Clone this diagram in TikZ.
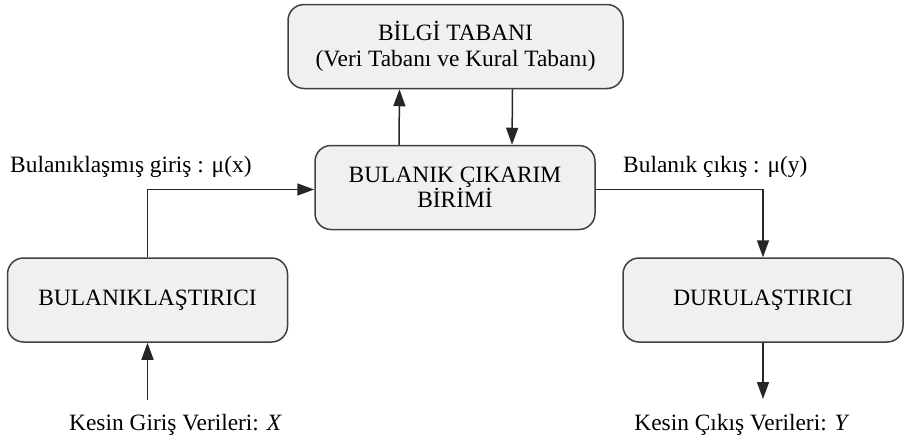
\documentclass[tikz,border=0pt]{standalone}
\usepackage{fontspec}
\setmainfont{Liberation Serif}
\usetikzlibrary{arrows.meta}

\begin{document}
\begin{tikzpicture}[x=1pt,y=-1pt]
        \tikzstyle{every node}+=[inner sep=0pt, font=\fontsize{23.4}{26}\selectfont]
        \tikzstyle{blok}=[draw=black!75, rounded corners=16pt, fill=black!6, line width=1.5pt, align=center, minimum height=84pt, minimum width=280pt]
        \tikzstyle{ok}=[draw=black!85, line width=1.5pt, -{Triangle[length=17pt,width=12pt]}]
        \useasboundingbox (0,0) rectangle (920,442);
        % kutular
        \node [blok, minimum width=335pt] (bilgi) at (455.5,46.5) {B\.{I}LG\.{I} TABANI\\(Veri Tabanı ve Kural Tabanı)};
        \node [blok, font=\fontsize{23.4}{23}\selectfont] (cikarim) at (455,187.5) {BULANIK ÇIKARIM\\B\.{I}R\.{I}M\.{I}};
        \node [blok] (bulanik) at (147.5,300) {BULANIKLAŞTIRICI};
        \node [blok] (durulas) at (763,300) {DURULAŞTIRICI};
        % yazilar
        \node [anchor=base] (giris) at (175.5,430) {Kesin Giriş Verileri: \textit{X}};
        \node [anchor=base] (cikis) at (742,430) {Kesin Çıkış Verileri: \textit{Y}};
        \node [anchor=base west] (mux) at (10,172) {Bulanıklaşmış giriş : μ(x)};
        \node [anchor=base west] (muy) at (623,172) {Bulanık çıkış : μ(y)};
        % oklar
        \draw [ok] ([xshift=-56pt]cikarim.north) -- ([xshift=-56pt]bilgi.south);
        \draw [ok] ([xshift=57pt]bilgi.south) -- ([xshift=57pt]cikarim.north);
        \draw [ok] (bulanik.north) |- ([yshift=-2pt]cikarim.west);
        \draw [ok] ([yshift=-2pt]cikarim.east) -| (durulas.north);
        \draw [ok] (bulanik.south |- 0,400) -- (bulanik.south);
        \draw [ok] (durulas.south) -- (durulas.south |- 0,399);
\end{tikzpicture}
\end{document}
